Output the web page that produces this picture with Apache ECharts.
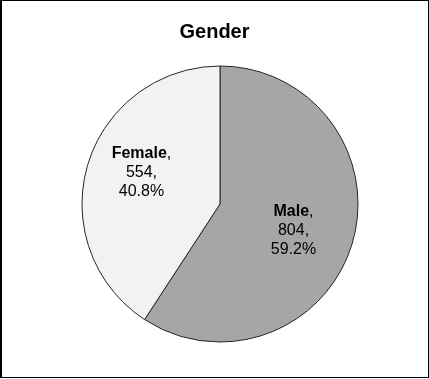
<!DOCTYPE html>
<html>
<head>
<meta charset="utf-8">
<script src="https://cdn.jsdelivr.net/npm/echarts@6/dist/echarts.min.js"></script>
<style>
html,body{margin:0;padding:0;background:#fff;}
#frame{position:absolute;left:0;top:0;width:429px;height:378px;box-sizing:border-box;border-top:1px solid #000;border-left:2px solid #000;border-right:1px solid #000;border-bottom:1px solid #000;}
#chart{position:absolute;left:0;top:0;width:429px;height:379px;}
</style>
</head>
<body>
<div id="chart"></div>
<div id="frame"></div>
<script>
const titleText = 'Gender';
const categories = ['Male', 'Female'];
const counts = [804, 554];
const colors = ['#a6a6a6', '#f2f2f2'];

const data = categories.map((c, i) => ({ name: c, value: counts[i], itemStyle: { color: colors[i] } }));
const FONT = '"Liberation Sans", Arial, sans-serif';
const labelNudge = { Male: [-7, 3], Female: [2, -7] };

const chart = echarts.init(document.getElementById('chart'), null, { renderer: 'canvas' });
chart.setOption({
  animation: false,
  backgroundColor: '#ffffff',
  title: {
    text: titleText,
    left: 'center',
    top: 17,
    textStyle: { fontFamily: FONT, fontSize: 20, fontWeight: 'bold', color: '#000' }
  },
  series: [
    {
      type: 'pie',
      center: [220, 204],
      radius: [0, 138],
      startAngle: 90,
      clockwise: true,
      silent: true,
      label: { show: false },
      labelLine: { show: false },
      itemStyle: { borderColor: '#262626', borderWidth: 1 },
      data: data
    },
    {
      type: 'pie',
      center: [220, 204],
      radius: [0, 162],
      startAngle: 90,
      clockwise: true,
      silent: true,
      percentPrecision: 1,
      itemStyle: { color: 'rgba(0,0,0,0)', borderWidth: 0 },
      labelLine: { show: false },
      label: {
        show: true,
        position: 'inside',
        formatter: '{n|{b}}{p|,}\n{p|{c},}\n{p|{d}%}',
        rich: {
          n: { fontFamily: FONT, fontSize: 16, fontWeight: 'bold', color: '#000', lineHeight: 19 },
          p: { fontFamily: FONT, fontSize: 16, color: '#000', lineHeight: 19 }
        }
      },
      data: categories.map((c, i) => ({ name: c, value: counts[i], label: { offset: labelNudge[c] } }))
    }
  ]
});
</script>
</body>
</html>
